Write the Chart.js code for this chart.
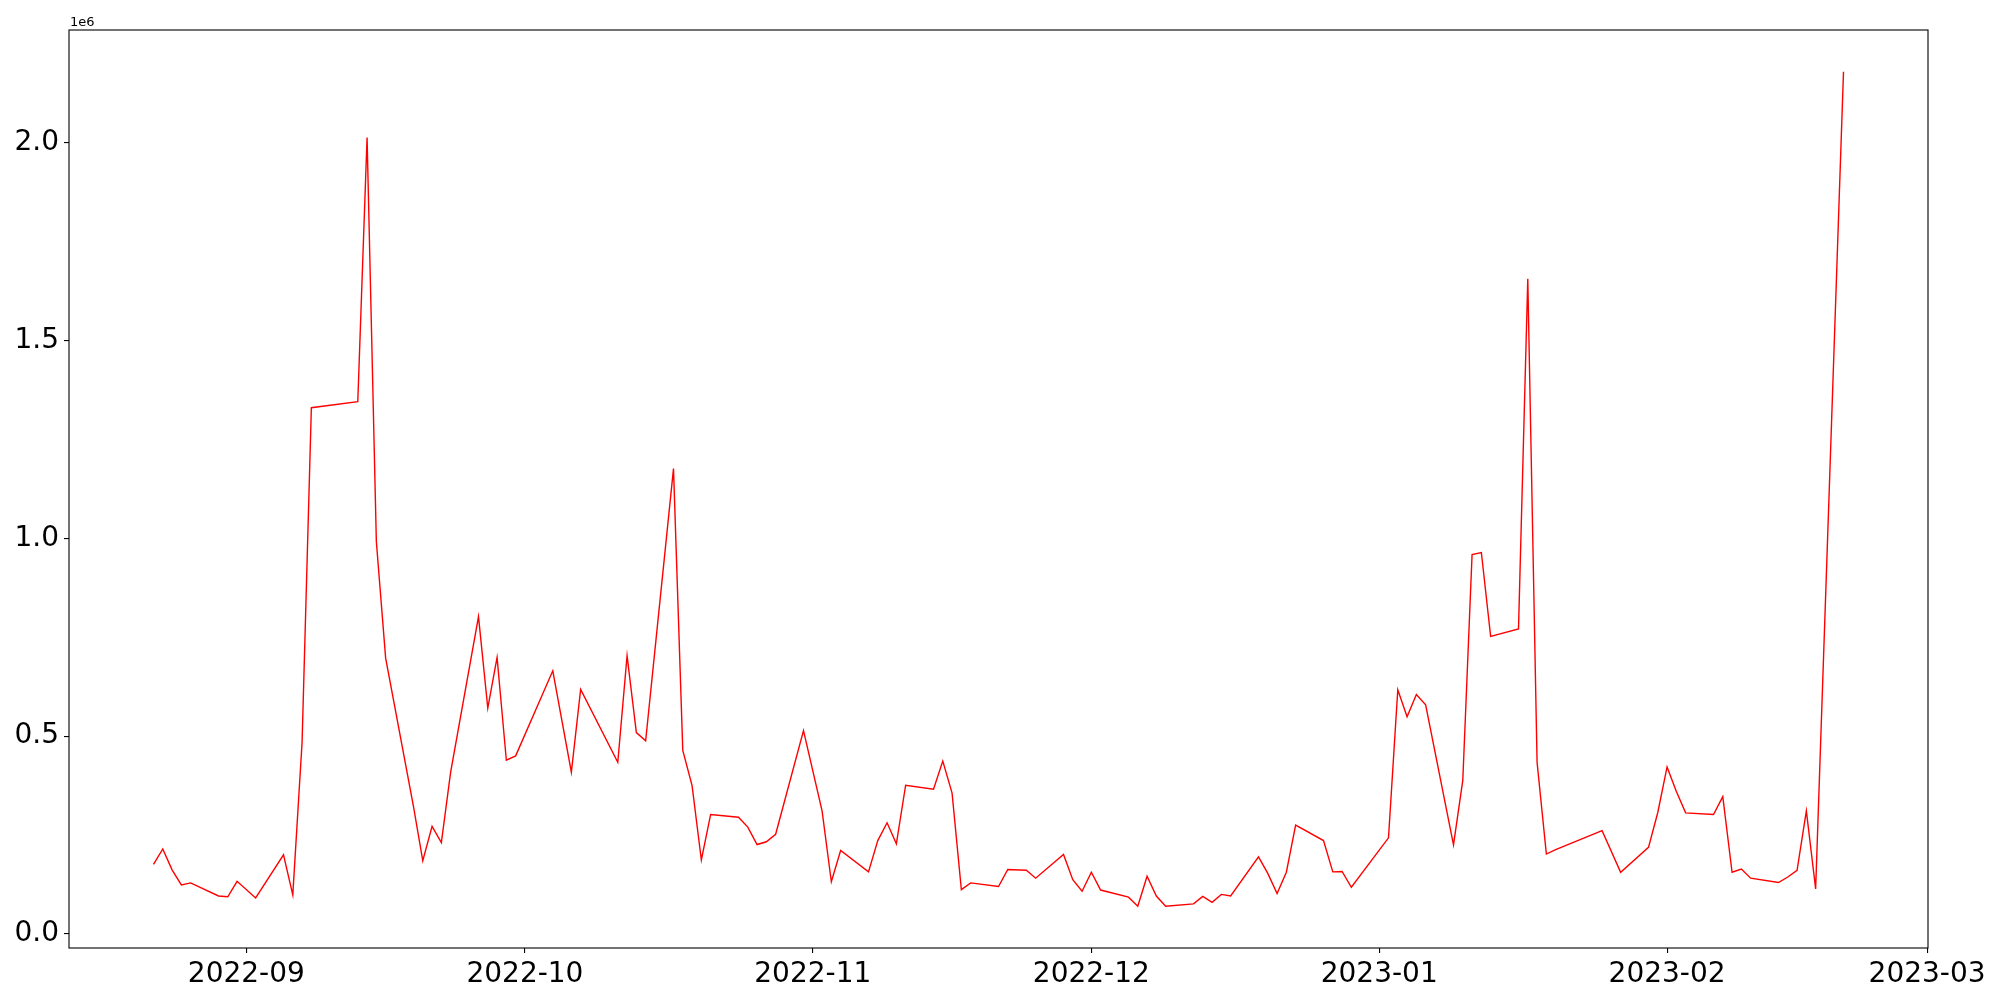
<!DOCTYPE html>
<html>
<head>
<meta charset="utf-8">
<script src="https://cdn.jsdelivr.net/npm/chart.js@4.4.1/dist/chart.umd.min.js"></script>
<style>
  html, body { margin: 0; padding: 0; background: #fff; }
</style>
</head>
<body>
<canvas id="myChart" width="2000" height="1000"></canvas>
<script>
// trading days (gaps = weekends / holidays)
const dates = [
  "2022-08-22", "2022-08-23", "2022-08-24", "2022-08-25", "2022-08-26",
  "2022-08-29", "2022-08-30", "2022-08-31", "2022-09-02",
  "2022-09-05", "2022-09-06", "2022-09-07", "2022-09-08",
  "2022-09-13", "2022-09-14", "2022-09-15", "2022-09-16",
  "2022-09-19", "2022-09-20", "2022-09-21", "2022-09-22", "2022-09-23",
  "2022-09-26", "2022-09-27", "2022-09-28", "2022-09-29", "2022-09-30",
  "2022-10-04", "2022-10-06", "2022-10-07",
  "2022-10-11", "2022-10-12", "2022-10-13", "2022-10-14",
  "2022-10-17", "2022-10-18", "2022-10-19", "2022-10-20", "2022-10-21",
  "2022-10-24", "2022-10-25", "2022-10-26", "2022-10-27", "2022-10-28",
  "2022-10-31", "2022-11-02", "2022-11-03", "2022-11-04",
  "2022-11-07", "2022-11-08", "2022-11-09", "2022-11-10", "2022-11-11",
  "2022-11-14", "2022-11-15", "2022-11-16", "2022-11-17", "2022-11-18",
  "2022-11-21", "2022-11-22", "2022-11-24", "2022-11-25",
  "2022-11-28", "2022-11-29", "2022-11-30", "2022-12-01", "2022-12-02",
  "2022-12-05", "2022-12-06", "2022-12-07", "2022-12-08", "2022-12-09",
  "2022-12-12", "2022-12-13", "2022-12-14", "2022-12-15", "2022-12-16",
  "2022-12-19", "2022-12-20", "2022-12-21", "2022-12-22", "2022-12-23",
  "2022-12-26", "2022-12-27", "2022-12-28", "2022-12-29",
  "2023-01-02", "2023-01-03", "2023-01-04", "2023-01-05", "2023-01-06",
  "2023-01-09", "2023-01-10", "2023-01-11", "2023-01-12", "2023-01-13",
  "2023-01-16", "2023-01-17", "2023-01-18", "2023-01-19", "2023-01-20",
  "2023-01-25", "2023-01-27",
  "2023-01-30", "2023-01-31", "2023-02-01", "2023-02-02", "2023-02-03",
  "2023-02-06", "2023-02-07", "2023-02-08", "2023-02-09", "2023-02-10",
  "2023-02-13", "2023-02-14", "2023-02-15", "2023-02-16", "2023-02-17",
  "2023-02-20"
];

const volumes = [
  176000, 215000, 162000, 124000, 129000,
  96000, 94000, 133000, 91000,
  200000, 99000, 484000, 1330000,
  1345000, 2013000, 991000, 697000,
  322000, 185000, 272000, 231000, 409000,
  802000, 571000, 699000, 439000, 450000,
  665000, 409000, 618000,
  434000, 703000, 509000, 488000,
  1176000, 464000, 375000, 187000, 302000,
  295000, 270000, 226000, 233000, 252000,
  514000, 311000, 132000, 211000,
  157000, 236000, 281000, 228000, 376000,
  366000, 437000, 356000, 112000, 129000,
  120000, 163000, 161000, 141000,
  201000, 137000, 108000, 156000, 111000,
  93000, 70000, 146000, 96000, 70000,
  76000, 95000, 80000, 100000, 96000,
  195000, 153000, 102000, 156000, 275000,
  236000, 157000, 158000, 118000,
  243000, 617000, 549000, 605000, 579000,
  225000, 388000, 959000, 964000, 752000,
  771000, 1656000, 434000, 202000, 213000,
  261000, 156000,
  219000, 307000, 422000, 360000, 306000,
  302000, 347000, 156000, 164000, 141000,
  130000, 144000, 161000, 311000, 114000,
  2179000
];

const monthTicks = ["2022-09", "2022-10", "2022-11", "2022-12", "2023-01", "2023-02", "2023-03"];
const yTicks = [0, 500000, 1000000, 1500000, 2000000];

const DAY = 86400000;
function toDay(s) {
  const p = s.split("-").map(Number);
  return Date.UTC(p[0], p[1] - 1, p[2] || 1) / DAY;
}

const points = dates.map((d, i) => ({ x: toDay(d), y: volumes[i] }));

// matplotlib-style 5% margins
const xs = points.map(p => p.x), ys = points.map(p => p.y);
const xLo = Math.min(...xs), xHi = Math.max(...xs);
const yLo = Math.min(...ys), yHi = Math.max(...ys);
const xPad = (xHi - xLo) * 0.05, yPad = (yHi - yLo) * 0.05;

const tickFont = { family: "'DejaVu Sans', sans-serif", size: 28 };

const frame = {
  id: "frame",
  afterDraw(chart) {
    const { ctx, chartArea: a } = chart;
    ctx.save();
    ctx.strokeStyle = "#000";
    ctx.lineWidth = 1.1;
    ctx.strokeRect(a.left, a.top, a.right - a.left, a.bottom - a.top);
    ctx.fillStyle = "#000";
    ctx.font = "13px 'DejaVu Sans', sans-serif";
    ctx.textBaseline = "alphabetic";
    ctx.textAlign = "left";
    ctx.fillText("1e6", a.left + 1, a.top - 4);
    ctx.restore();
  }
};

new Chart(document.getElementById("myChart"), {
  type: "line",
  data: {
    datasets: [{
      data: points,
      borderColor: "red",
      borderWidth: 1.4,
      pointRadius: 0,
      tension: 0,
      fill: false
    }]
  },
  options: {
    responsive: false,
    animation: false,
    devicePixelRatio: 1,
    layout: { padding: { left: 0, top: 30, right: 72, bottom: 0 } },
    plugins: { legend: { display: false }, tooltip: { enabled: false } },
    scales: {
      x: {
        type: "linear",
        min: xLo - xPad,
        max: xHi + xPad,
        afterBuildTicks: s => { s.ticks = monthTicks.map(t => ({ value: toDay(t) })); },
        afterFit: s => { s.height = 52; },
        ticks: {
          callback: v => {
            const m = monthTicks.find(t => toDay(t) === v);
            return m || "";
          },
          font: tickFont,
          color: "#000",
          padding: 5,
          maxRotation: 0,
          autoSkip: false
        },
        grid: { drawOnChartArea: false, color: "#000", tickLength: 5, lineWidth: 1.1 },
        border: { display: false }
      },
      y: {
        min: yLo - yPad,
        max: yHi + yPad,
        afterBuildTicks: s => { s.ticks = yTicks.map(v => ({ value: v })); },
        afterFit: s => { s.width = 69; },
        ticks: {
          callback: v => (v / 1e6).toFixed(1),
          font: tickFont,
          color: "#000",
          padding: 5
        },
        grid: { drawOnChartArea: false, color: "#000", tickLength: 5, lineWidth: 1.1 },
        border: { display: false }
      }
    }
  },
  plugins: [frame]
});
</script>
</body>
</html>
